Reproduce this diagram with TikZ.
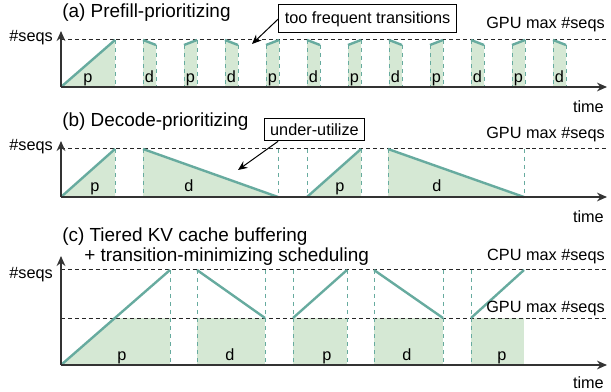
\documentclass[tikz,border=0pt]{standalone}
\usepackage{fontspec}
\setmainfont{Liberation Sans}
\usetikzlibrary{arrows.meta}
\definecolor{tealline}{HTML}{67AB9F}
\definecolor{greenfill}{HTML}{D5E8D4}
\begin{document}
\begin{tikzpicture}[x=0.75pt,y=-0.75pt,font=\fontsize{12.2}{14}\selectfont,
  title/.style={anchor=west, inner sep=0pt, font=\fontsize{14.2}{16}\selectfont},
  axislabel/.style={anchor=east, inner sep=0pt},
  axisline/.style={draw=black!80, line width=1.3pt, -{Stealth[length=7.5pt,width=6.5pt]}},
  maxline/.style={draw=black!85, line width=0.75pt, dash pattern=on 3pt off 2.2pt},
  cutline/.style={draw=tealline, line width=0.75pt, dash pattern=on 3pt off 3pt},
  curve/.style={draw=tealline, line width=1.8pt},
  area/.style={fill=greenfill},
  phase/.style={anchor=base, inner sep=0pt},
  callout/.style={draw, line width=0.75pt, inner xsep=4.5pt, inner ysep=0pt},
  note/.style={-{Stealth[length=7pt,width=6pt]}, line width=0.75pt}]
\useasboundingbox (0,0) rectangle (611,392);

\node[title] (ta) at (62,13) {(a) Prefill-prioritizing};
\node[axislabel] (ya) at (53,38) {\#seqs};
\fill[area] (61,87) -- (115,40) -- (115,87) -- cycle;
\foreach \x/\ya/\yb in {143/40/45,184/45/40,225/40/45,266/45/40,307/40/45,348/45/40,389/40/45,430/45/40,471/40/45,512/45/40,553/40/45}
  \fill[area] (\x,\ya) -- (\x+13,\yb) -- (\x+13,87) -- (\x,87) -- cycle;
\draw[maxline] (61,40) -- (607,40);
\draw[cutline] (115,40) -- (115,87);
\draw[curve] (61,87) -- (115,40);
\node[phase] (pa0) at (88,83) {p};
\foreach \x/\ya/\yb/\t [count=\i] in {143/40/45/d,184/45/40/p,225/40/45/d,266/45/40/p,307/40/45/d,348/45/40/p,389/40/45/d,430/45/40/p,471/40/45/d,512/45/40/p,553/40/45/d}{
  \draw[cutline] (\x,\ya) -- (\x,87) (\x+13,\yb) -- (\x+13,87);
  \draw[curve] (\x,\ya) -- (\x+13,\yb);
  \node[phase] (a\i) at (\x+6.5,83) {\t};
}
\draw[axisline] (61,87) -- (61,31);
\draw[axisline] (61,87) -- (607,87);
\node[axislabel] (gpua) at (605,25) {GPU max \#seqs};
\node[axislabel] (timea) at (604,107) {time};
\node[callout, minimum height=21pt, fill=white] (freqbox) at (367.5,19) {too frequent transitions};
\coordinate (freqtip) at (252,44);
\draw[note] (freqbox.west) -- (freqtip);

\node[title] (tb) at (62,122) {(b) Decode-prioritizing};
\node[axislabel] (yb) at (53,147) {\#seqs};
\fill[area] (61,197) -- (115,149) -- (115,197) -- cycle;
\fill[area] (143,149) -- (278,197) -- (143,197) -- cycle;
\fill[area] (307,197) -- (361,149) -- (361,197) -- cycle;
\fill[area] (388,149) -- (524,197) -- (388,197) -- cycle;
\draw[maxline] (61,149) -- (607,149);
\foreach \x in {115,143,278,307,361,388,524}
  \draw[cutline] (\x,149) -- (\x,197);
\draw[curve] (61,197) -- (115,149);
\draw[curve] (143,149) -- (278,197);
\draw[curve] (307,197) -- (361,149);
\draw[curve] (388,149) -- (524,197);
\node[phase] (pb1) at (95,192) {p};
\node[phase] (db1) at (189,192) {d};
\node[phase] (pb2) at (340,192) {p};
\node[phase] (db2) at (437,192) {d};
\draw[axisline] (61,197) -- (61,141);
\draw[axisline] (61,197) -- (607,197);
\node[axislabel] (gpub) at (605,135) {GPU max \#seqs};
\node[axislabel] (timeb) at (604,217) {time};
\node[callout, minimum height=17pt, fill=white] (lowbox) at (314.5,129.5) {under-utilize};
\coordinate (lowtip) at (238,170);
\draw[note] (lowbox.198) -- (lowtip);

\node[title] (tc1) at (62,237) {(c) Tiered KV cache buffering};
\node[title] (tc2) at (84,257) {+ transition-minimizing scheduling};
\node[axislabel] (yc) at (53,275) {\#seqs};
\fill[area] (61,365) -- (115,318) -- (170,318) -- (170,365) -- cycle;
\foreach \xa/\xb in {197/265,293/347,374/443,471/524}
  \fill[area] (\xa,318) rectangle (\xb,365);
\draw[maxline] (61,270) -- (607,270);
\draw[maxline] (61,318) -- (607,318);
\foreach \x in {170,197,265,293,347,374,443,471}
  \draw[cutline] (\x,270) -- (\x,365);
\draw[curve] (61,365) -- (170,270);
\draw[curve] (197,270) -- (265,318);
\draw[curve] (293,318) -- (347,270);
\draw[curve] (374,270) -- (443,318);
\draw[curve] (471,318) -- (524,270);
\node[phase] (pc1) at (122,360) {p};
\node[phase] (dc1) at (230,360) {d};
\node[phase] (pc2) at (327,360) {p};
\node[phase] (dc2) at (407,360) {d};
\node[phase] (pc3) at (502,360) {p};
\draw[axisline] (61,365) -- (61,256);
\draw[axisline] (61,365) -- (607,365);
\node[axislabel] (cpuc) at (605,257) {CPU max \#seqs};
\node[axislabel] (gpuc) at (605,309) {GPU max \#seqs};
\node[axislabel] (timec) at (604,383) {time};
\end{tikzpicture}
\end{document}
